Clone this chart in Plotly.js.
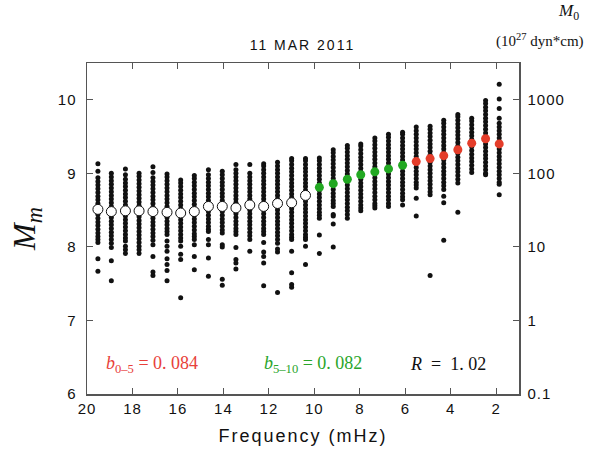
<!DOCTYPE html>
<html>
<head>
<meta charset="utf-8">
<script src="https://cdn.plot.ly/plotly-3.0.1.min.js"></script>
<style>
html,body{margin:0;padding:0;background:#fff;}
#chart{width:593px;height:451px;}
.gtitle{letter-spacing:2px;}
.xtitle{letter-spacing:2px;}
.xtick text,.ytick text,.y2tick text{letter-spacing:1px;}
</style>
</head>
<body>
<div id="chart"></div>
<script>
// Frequencies (mHz) of each column
const freqs = [19.52,18.93,18.31,17.71,17.10,16.48,15.88,15.28,14.66,14.05,13.45,12.84,12.23,11.62,11.00,10.39,
               9.78,9.17,8.55,7.96,7.34,6.74,6.12,
               5.52,4.91,4.31,3.69,3.08,2.47,1.87];

// Individual station Mm values per column
const stations = [
 [9.13,9.03,8.94,8.89,8.84,8.79,8.74,8.69,8.64,8.59,8.54,8.49,8.44,8.39,8.34,8.29,8.24,8.19,8.14,8.10,8.06,7.84,7.67],
 [9.00,8.95,8.90,8.85,8.80,8.75,8.70,8.65,8.60,8.55,8.50,8.45,8.40,8.35,8.30,8.25,8.20,8.15,8.10,8.05,7.99,7.81,7.54],
 [9.06,8.98,8.92,8.87,8.82,8.77,8.72,8.67,8.62,8.57,8.52,8.47,8.42,8.37,8.32,8.27,8.22,8.17,8.12,8.08,8.01,7.96,7.91],
 [9.00,8.96,8.91,8.86,8.81,8.76,8.71,8.66,8.61,8.56,8.51,8.46,8.41,8.36,8.31,8.26,8.21,8.16,8.11,8.06,8.01,7.96,7.91],
 [9.09,9.01,8.94,8.89,8.84,8.79,8.74,8.69,8.64,8.59,8.54,8.49,8.44,8.39,8.34,8.29,8.24,8.19,8.14,8.09,8.03,7.87,7.66,7.61],
 [8.99,8.95,8.90,8.85,8.80,8.75,8.70,8.65,8.60,8.55,8.50,8.45,8.40,8.35,8.30,8.25,8.21,8.17,8.08,8.01,7.94,7.84,7.76,7.68,7.54],
 [8.91,8.87,8.82,8.77,8.72,8.67,8.62,8.57,8.52,8.47,8.42,8.37,8.32,8.27,8.22,8.17,8.12,8.08,8.01,7.90,7.83,7.31],
 [8.97,8.93,8.88,8.83,8.78,8.73,8.68,8.63,8.58,8.53,8.48,8.43,8.38,8.33,8.28,8.23,8.18,8.14,8.10,8.03,7.87,7.69],
 [9.05,8.98,8.93,8.88,8.83,8.78,8.73,8.68,8.63,8.58,8.53,8.48,8.43,8.38,8.33,8.28,8.24,8.21,8.10,8.03,7.85,7.60],
 [9.03,8.98,8.93,8.88,8.83,8.78,8.73,8.68,8.63,8.58,8.53,8.48,8.43,8.38,8.33,8.28,8.23,8.19,8.03,8.00,7.56,7.48],
 [9.12,9.05,9.00,8.95,8.90,8.85,8.80,8.75,8.70,8.65,8.60,8.55,8.50,8.45,8.40,8.35,8.30,8.25,8.21,8.17,7.99,7.83,7.78,7.70],
 [9.12,9.00,8.95,8.90,8.85,8.80,8.75,8.70,8.65,8.60,8.55,8.50,8.45,8.40,8.35,8.30,8.25,8.20,8.15,8.10,7.94],
 [9.13,9.10,9.05,9.00,8.95,8.90,8.85,8.80,8.75,8.70,8.65,8.60,8.55,8.50,8.45,8.40,8.35,8.30,8.25,8.21,8.17,8.06,7.93,7.87,7.78,7.47],
 [9.15,9.10,9.05,9.00,8.95,8.90,8.85,8.80,8.75,8.70,8.65,8.60,8.55,8.50,8.45,8.40,8.35,8.30,8.25,8.20,8.15,8.10,8.05,7.97,7.93,7.38],
 [9.20,9.17,9.12,9.07,9.02,8.97,8.92,8.87,8.82,8.77,8.72,8.67,8.62,8.57,8.52,8.47,8.42,8.37,8.32,8.27,8.22,8.17,8.13,8.10,7.94,7.65,7.49,7.45],
 [9.20,9.17,9.12,9.07,9.02,8.97,8.92,8.87,8.82,8.77,8.72,8.67,8.62,8.57,8.52,8.47,8.42,8.37,8.32,8.27,8.22,8.17,8.13,8.10,8.01,7.76],
 [9.21,9.17,9.12,9.07,9.02,8.97,8.92,8.87,8.82,8.77,8.72,8.67,8.62,8.57,8.52,8.47,8.43,8.39,8.16,7.91],
 [9.32,9.28,9.23,9.18,9.13,9.08,9.03,8.98,8.93,8.88,8.83,8.78,8.73,8.68,8.63,8.59,8.55,8.44,8.42,8.31,8.00],
 [9.38,9.34,9.29,9.24,9.19,9.14,9.09,9.04,8.99,8.94,8.89,8.84,8.79,8.74,8.69,8.64,8.59,8.54,8.49,8.44,8.39],
 [9.40,9.37,9.32,9.27,9.22,9.17,9.12,9.07,9.02,8.97,8.92,8.87,8.82,8.77,8.72,8.67,8.62,8.57,8.53,8.49],
 [9.48,9.44,9.39,9.34,9.29,9.24,9.19,9.14,9.09,9.04,8.99,8.94,8.89,8.84,8.79,8.74,8.69,8.64,8.59,8.56,8.53],
 [9.53,9.49,9.44,9.39,9.34,9.29,9.24,9.19,9.14,9.09,9.04,8.99,8.94,8.89,8.84,8.79,8.74,8.69,8.64,8.59,8.55],
 [9.56,9.53,9.48,9.43,9.38,9.33,9.28,9.23,9.18,9.13,9.08,9.03,8.98,8.93,8.88,8.83,8.78,8.73,8.68,8.64,8.57],
 [9.63,9.58,9.53,9.48,9.43,9.38,9.33,9.28,9.23,9.18,9.13,9.08,9.03,8.98,8.93,8.88,8.84,8.80,8.66,8.42],
 [9.64,9.60,9.55,9.50,9.45,9.40,9.35,9.30,9.25,9.20,9.15,9.10,9.05,9.00,8.95,8.90,8.85,8.80,8.75,8.71,7.61],
 [9.72,9.68,9.63,9.58,9.53,9.48,9.43,9.38,9.33,9.28,9.23,9.18,9.13,9.08,9.03,8.98,8.93,8.88,8.83,8.78,8.69,8.60,8.09],
 [9.80,9.77,9.72,9.67,9.62,9.57,9.52,9.47,9.42,9.37,9.32,9.27,9.22,9.17,9.12,9.07,9.02,8.97,8.92,8.87,8.47],
 [9.75,9.71,9.66,9.61,9.56,9.51,9.46,9.41,9.36,9.31,9.26,9.21,9.16,9.11,9.06,9.01],
 [9.99,9.95,9.90,9.85,9.80,9.75,9.70,9.65,9.60,9.55,9.50,9.45,9.40,9.35,9.30,9.25,9.20,9.15,9.10,9.05,9.00,8.98],
 [10.21,10.01,9.88,9.75,9.68,9.63,9.58,9.53,9.48,9.43,9.38,9.33,9.28,9.23,9.18,9.13,9.08,9.03,8.98,8.93,8.88,8.85,8.71]
];

// Mean Mm per column
const meanMm = [8.51,8.48,8.49,8.49,8.48,8.47,8.46,8.48,8.55,8.55,8.53,8.57,8.55,8.59,8.60,8.70,
                8.81,8.86,8.92,8.98,9.02,9.06,9.11,
                9.16,9.20,9.24,9.32,9.41,9.47,9.40];
// group of each column: 'hi' (>10 mHz), 'b510', 'b05'
const groups = ['hi','hi','hi','hi','hi','hi','hi','hi','hi','hi','hi','hi','hi','hi','hi','hi',
                'b510','b510','b510','b510','b510','b510','b510',
                'b05','b05','b05','b05','b05','b05','b05'];

const xTicks = [20,18,16,14,12,10,8,6,4,2];
const yTicks = [6,7,8,9,10];
const m0Ticks = [0.1,1,10,100,1000];
const m0Labels = ['0.1','1','10','100','1000'];

const RED = '#e43d2a', GREEN = '#22a822';

// build station scatter
const sx = [], sy = [];
stations.forEach((col,i)=>col.forEach(v=>{sx.push(freqs[i]); sy.push(v);}));

function pick(g){
  const x=[],y=[];
  freqs.forEach((f,i)=>{ if(groups[i]===g){x.push(f); y.push(meanMm[i]);} });
  return {x,y};
}
const hi = pick('hi'), g510 = pick('b510'), g05 = pick('b05');

const traces = [
  {x:sx, y:sy, type:'scatter', mode:'markers', marker:{color:'#111', size:5}, hoverinfo:'skip', showlegend:false},
  {x:hi.x, y:hi.y, type:'scatter', mode:'markers', marker:{color:'#fff', size:10, line:{color:'#111', width:1}}, showlegend:false},
  {x:g510.x, y:g510.y, type:'scatter', mode:'markers', marker:{color:GREEN, size:9}, showlegend:false},
  {x:g05.x, y:g05.y, type:'scatter', mode:'markers', marker:{color:RED, size:9}, showlegend:false},
  // moment axis companion (M0 = 10^(Mm-7) x 1e27 dyn*cm), invisible
  {x:freqs, y:meanMm.map(m=>Math.pow(10,m-7)), yaxis:'y2', type:'scatter', mode:'markers',
   marker:{size:1, opacity:0}, hoverinfo:'skip', showlegend:false}
];

const tickFont = {family:'Liberation Sans, Arial, sans-serif', size:15, color:'#111'};
const axCol = '#555';

const layout = {
  width:593, height:451,
  margin:{l:87, r:74, t:63, b:57},
  paper_bgcolor:'#fff', plot_bgcolor:'#fff',
  showlegend:false,
  title:{text:'11 MAR 2011', x:0.51, xanchor:'center', y:1-45/451, yanchor:'middle', yref:'container',
         font:{family:'Liberation Sans, Arial, sans-serif', size:14, color:'#111'}},
  xaxis:{range:[20,1], tickvals:xTicks, ticktext:xTicks.map(String), ticks:'inside', ticklen:6, tickcolor:axCol,
         showline:true, linecolor:axCol, linewidth:1.5, mirror:'ticks', showgrid:false, zeroline:false,
         tickfont:tickFont,
         title:{text:'Frequency (mHz)', standoff:14, font:{family:'Liberation Sans, Arial, sans-serif', size:18, color:'#111'}}},
  yaxis:{range:[6,10.5], tickvals:yTicks, ticktext:yTicks.map(String), ticks:'inside', ticklen:6, tickcolor:axCol,
         showline:true, linecolor:axCol, linewidth:1.5, mirror:false, showgrid:false, zeroline:false,
         tickfont:tickFont, ticklabelstandoff:6,
         title:{text:'<i>M<sub>m</sub></i>', standoff:12, font:{family:'Liberation Serif, Times New Roman, serif', size:32, color:'#111'}}},
  yaxis2:{type:'log', range:[-1,3.5], overlaying:'y', side:'right', tickvals:m0Ticks, ticktext:m0Labels,
          ticks:'inside', ticklen:6, tickcolor:axCol, showline:true, linecolor:axCol, linewidth:1.5,
          showgrid:false, zeroline:false, tickfont:tickFont, ticklabelstandoff:4},
  annotations:[
    {xref:'paper', yref:'paper', x:(104-87)/432, y:(394-364)/331, xanchor:'left', yanchor:'middle', showarrow:false,
     text:'<i>b</i><sub>0–5</sub> = 0. 084', font:{family:'Liberation Serif, Times New Roman, serif', size:18, color:'#e8413a'}},
    {xref:'paper', yref:'paper', x:(262-87)/432, y:(394-364)/331, xanchor:'left', yanchor:'middle', showarrow:false,
     text:'<i>b</i><sub>5–10</sub> = 0. 082', font:{family:'Liberation Serif, Times New Roman, serif', size:18, color:'#2aa52a'}},
    {xref:'paper', yref:'paper', x:(408-87)/432, y:(394-364)/331, xanchor:'left', yanchor:'middle', showarrow:false,
     text:'<i>R</i>  =  1. 02', font:{family:'Liberation Serif, Times New Roman, serif', size:18, color:'#111'}},
    {xref:'paper', yref:'paper', x:(568-87)/432, y:(394-12)/331, xanchor:'center', yanchor:'middle', showarrow:false,
     text:'<i>M</i><sub>0</sub>', font:{family:'Liberation Serif, Times New Roman, serif', size:17, color:'#111'}},
    {xref:'paper', yref:'paper', x:(540-87)/432, y:(394-40)/331, xanchor:'center', yanchor:'middle', showarrow:false,
     text:'(10<sup>27</sup> dyn*cm)', font:{family:'Liberation Serif, Times New Roman, serif', size:15, color:'#111'}}
  ]
};

Plotly.newPlot('chart', traces, layout, {displayModeBar:false, staticPlot:true});
</script>
</body>
</html>
